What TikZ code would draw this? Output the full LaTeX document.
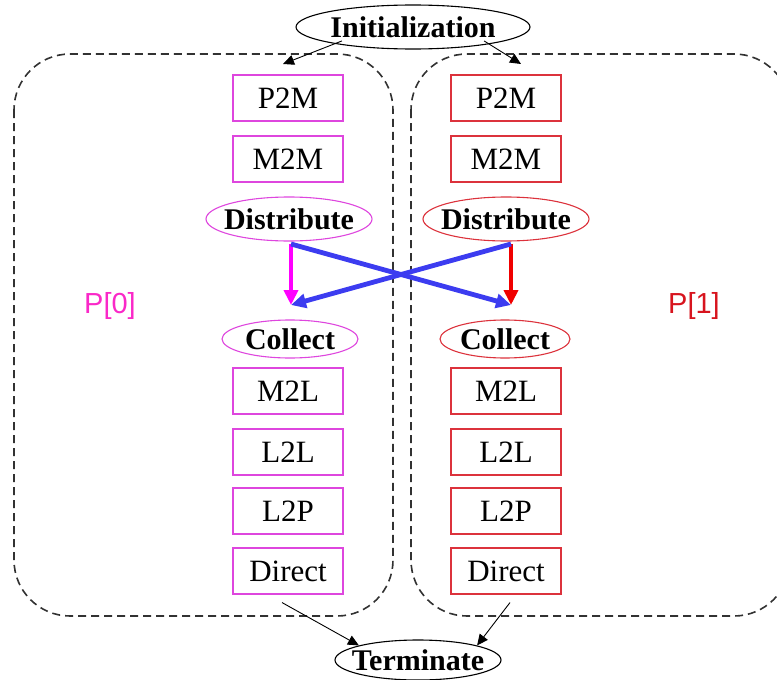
\documentclass[tikz,border=0pt]{standalone}
\usepackage{fontspec}
\setmainfont{Liberation Serif}
\newfontfamily\arialfont{Liberation Sans}
\usetikzlibrary{shapes.geometric,arrows.meta}

\definecolor{boxmag}{RGB}{222,70,222}
\definecolor{boxred}{RGB}{220,50,60}
\definecolor{arrmag}{RGB}{255,0,255}
\definecolor{arrred}{RGB}{240,0,0}
\definecolor{arrblue}{RGB}{60,60,240}
\definecolor{labmag}{RGB}{250,40,200}
\definecolor{labred}{RGB}{215,20,30}
\definecolor{dashgray}{RGB}{50,50,50}

\tikzset{
  taskbox/.style={rectangle, draw, line width=1.1pt, minimum width=110pt,
    minimum height=46pt, inner sep=0pt, font=\fontsize{31}{31}\selectfont},
  magbox/.style={taskbox, draw=boxmag},
  redbox/.style={taskbox, draw=boxred},
  phase/.style={ellipse, draw, line width=1.1pt, inner ysep=0pt, inner xsep=-16pt,
    font=\fontsize{30}{30}\selectfont\bfseries},
  procframe/.style={draw=dashgray, line width=1.6pt, dash pattern=on 8pt off 5pt,
    rounded corners=56pt},
  flow/.style={-{Triangle[length=11pt,width=10pt]}, line width=0.9pt},
  commarrow/.style={-{Triangle[length=15pt,width=14pt]}, line width=4.8pt},
  proclabel/.style={font=\arialfont\fontsize{29}{29}\selectfont}
}

\begin{document}
\begin{tikzpicture}[x=1pt,y=-1pt]
\useasboundingbox (0,0) rectangle (777,680);

% process frames
\draw[procframe] (14,54) rectangle (393,616);
\draw[procframe] (411,54) rectangle (790,616);

% start and end
\node[phase, minimum width=234pt, minimum height=44pt] (init) at (413,27) {Initialization};
\node[phase, minimum width=166pt, minimum height=40pt] (term) at (418,660) {Terminate};

% process 0
\node[magbox] (p2m0) at (288,98) {P2M};
\node[magbox] (m2m0) at (288,159) {M2M};
\node[phase, draw=boxmag, minimum width=166pt, minimum height=44pt] (dist0) at (289,219) {Distribute};
\node[phase, draw=boxmag, minimum width=136pt, minimum height=38pt] (coll0) at (290,339) {Collect};
\node[magbox] (m2l0) at (288,391) {M2L};
\node[magbox] (l2l0) at (288,452) {L2L};
\node[magbox] (l2p0) at (288,511) {L2P};
\node[magbox] (dir0) at (288,571) {Direct};

% process 1
\node[redbox] (p2m1) at (506,98) {P2M};
\node[redbox] (m2m1) at (506,159) {M2M};
\node[phase, draw=boxred, minimum width=166pt, minimum height=44pt] (dist1) at (506,219) {Distribute};
\node[phase, draw=boxred, minimum width=130pt, minimum height=38pt] (coll1) at (505,339) {Collect};
\node[redbox] (m2l1) at (506,391) {M2L};
\node[redbox] (l2l1) at (506,452) {L2L};
\node[redbox] (l2p1) at (506,511) {L2P};
\node[redbox] (dir1) at (506,571) {Direct};

% process labels
\node[proclabel, text=labmag] (lab0) at (110,306) {P[0]};
\node[proclabel, text=labred] (lab1) at (694,306) {P[1]};

% entry and exit
\coordinate (in0) at (283,64);
\coordinate (in1) at (521,64);
\draw[flow] (init.south west) ++(12,-2) coordinate (i0) (i0) -- (in0);
\draw[flow] (init.south east) ++(-12,-2) coordinate (i1) (i1) -- (in1);
\draw[flow] (dir0.south) ++(-6,8) coordinate (o0) (o0) -- (term.north west);
\draw[flow] (dir1.south) ++(4,8) coordinate (o1) (o1) -- (term.north east);

% exchange between processes
\coordinate (s0) at (291,244);
\coordinate (s1) at (511,244);
\coordinate (t0) at (291,305);
\coordinate (t1) at (511,305);
\draw[commarrow, draw=arrmag, fill=arrmag, line width=3.8pt] (s0) -- (t0);
\draw[commarrow, draw=arrred, fill=arrred, line width=3.8pt] (s1) -- (t1);
\draw[commarrow, draw=arrblue, fill=arrblue] (s0) -- (t1);
\draw[commarrow, draw=arrblue, fill=arrblue] (s1) -- (t0);
\end{tikzpicture}
\end{document}
